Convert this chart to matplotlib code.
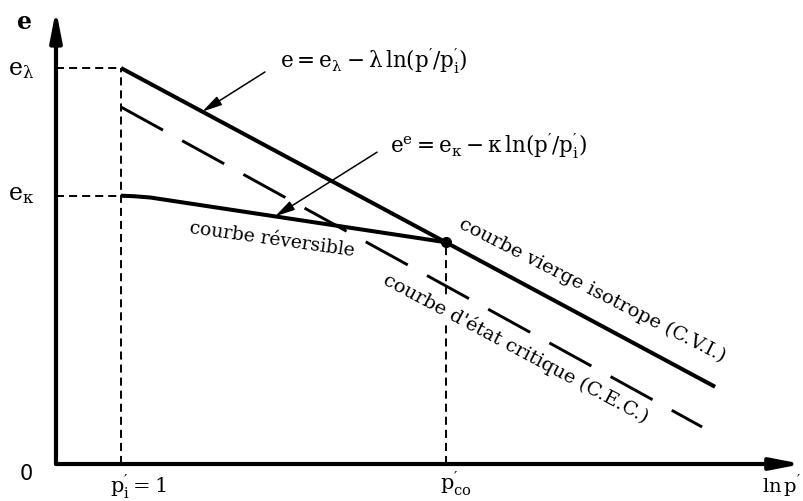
import numpy as np
import matplotlib
matplotlib.use("Agg")
import matplotlib.pyplot as plt

# schematic e - ln p' diagram (CVI, CEC and reversible line)
plt.rcParams['font.family'] = 'DejaVu Serif'
plt.rcParams['mathtext.fontset'] = 'dejavuserif'
plt.rcParams['mathtext.default'] = 'regular'
plt.rcParams['lines.scale_dashes'] = False

# key abscissae (ln p' units) and void ratios
x_pi = 1.0          # p'_i = 1
x_pco = 6.0         # p'_co
e_lambda = 4.0
e_kappa = 2.71
e_co = 2.24

# isotropic virgin line (C.V.I.)
x_cvi = [1.0, 10.14]
e_cvi = [4.0, 0.78]

# critical state line (C.E.C.)
x_cec = [1.0, 9.94]
e_cec = [3.606, 0.374]

# reversible (unloading) curve
x_rev = [1.0, 1.2, 1.45, 3.0, 4.5, 6.0]
e_rev = [2.71, 2.705, 2.692, 2.538, 2.389, 2.24]

# axis extents
x_axis_end = 11.48
e_axis_end = 4.59

fig = plt.figure(figsize=(8.04, 5.01), dpi=100)
ax = fig.add_axes([0, 0, 1, 1])
ax.set_xlim(-0.8615, 11.508)
ax.set_ylim(-0.3737, 4.687)
ax.axis('off')

# axes with arrows
for tip in [(x_axis_end, 0), (0, e_axis_end)]:
    ax.annotate('', xy=tip, xytext=(0, 0),
                arrowprops=dict(arrowstyle='-|>,head_length=1.8,head_width=0.35',
                                mutation_scale=10, lw=3, color='black',
                                shrinkA=0, shrinkB=0))

# dashed guide lines
guide = dict(color='black', lw=1.4, ls=(0, (5.8, 3.6)))
ax.plot([0, x_pi], [e_lambda, e_lambda], **guide)
ax.plot([0, x_pi], [e_kappa, e_kappa], **guide)
ax.plot([x_pi, x_pi], [0, e_lambda], **guide)
ax.plot([x_pco, x_pco], [0, e_co], **guide)

# curves
ax.plot(x_cvi, e_cvi, color='black', lw=2.9, solid_capstyle='butt')
ax.plot(x_cec, e_cec, color='black', lw=2.1, ls=(0, (34.5, 15.8)))
ax.plot(x_rev, e_rev, color='black', lw=2.9, solid_capstyle='butt')
ax.plot([x_pco], [e_co], 'o', color='black', ms=7)

# equations with pointers
ratio = r"\ln(p^{\prime}/p^{\prime}_{i})"
arrow = dict(arrowstyle='-|>,head_length=1.0,head_width=0.25', mutation_scale=12,
             lw=1.1, color='black', shrinkA=0, shrinkB=0)
x_tip1 = 2.25
ax.annotate('', xy=(x_tip1, np.interp(x_tip1, x_cvi, e_cvi)), xytext=(3.215, 3.96),
            arrowprops=arrow)
ax.text(3.446, 4.0, r"$e = e_{\lambda} - \lambda\," + ratio + "$", fontsize=15.5,
        ha='left', va='baseline')
x_tip2 = 3.37
ax.annotate('', xy=(x_tip2, np.interp(x_tip2, x_rev, e_rev)), xytext=(4.94, 3.15),
            arrowprops=arrow)
ax.text(5.138, 3.141, r"$e^{e} = e_{\kappa} - \kappa\," + ratio + "$", fontsize=15.5,
        ha='left', va='baseline')

# curve names
ax.text(3.323, 2.263, 'courbe réversible', fontsize=13.5, rotation=-8,
        ha='center', va='center', rotation_mode='anchor')
ax.text(8.246, 1.758, 'courbe vierge isotrope (C.V.I.)', fontsize=14, rotation=-27,
        ha='center', va='center', rotation_mode='anchor')
ax.text(7.077, 1.172, "courbe d'état critique (C.E.C.)", fontsize=14, rotation=-28,
        ha='center', va='center', rotation_mode='anchor',
        bbox=dict(facecolor='white', edgecolor='none', pad=0.5))

# axis labels
ax.text(-0.492, 4.465, 'e', fontsize=17, fontweight='bold', ha='center', va='center')
ax.text(-0.738, 3.93, r'$e_{\lambda}$', fontsize=17, ha='left', va='baseline')
ax.text(-0.738, 2.667, r'$e_{\kappa}$', fontsize=17, ha='left', va='baseline')
ax.text(-0.46, -0.10, '0', fontsize=15, family='DejaVu Sans', ha='center', va='center')
ax.text(0.83, -0.293, r"$p^{\prime}_{i} = 1$", fontsize=15, ha='left', va='baseline')
ax.text(5.908, -0.263, r"$p^{\prime}_{co}$", fontsize=15, ha='left', va='baseline')
ax.text(10.86, -0.29, r"$\ln p^{\prime}$", fontsize=14, ha='left', va='baseline')

fig.savefig('out.png', dpi=100)
